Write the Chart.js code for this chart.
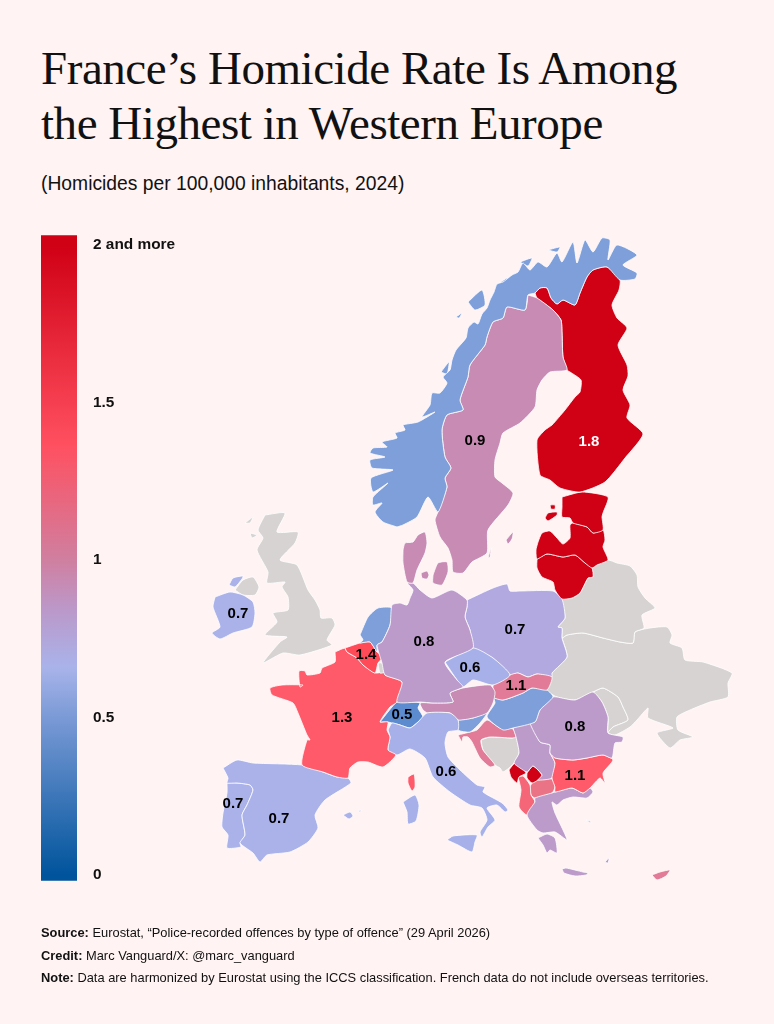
<!DOCTYPE html>
<html>
<head>
<meta charset="utf-8">
<title>France's Homicide Rate</title>
<script src="https://cdn.jsdelivr.net/npm/chart.js@4"></script>
<style>
  html, body { margin: 0; padding: 0; background: #fff3f3; }
  body { position: relative; width: 774px; height: 1024px; overflow: hidden; font-family: "Liberation Sans", sans-serif; color: #111; }
  #mapChart { position: absolute; left: 0; top: 0; }
  #scaleChart { position: absolute; left: 41px; top: 218px; }
  h1 { position: absolute; left: 41px; top: 41px; margin: 0; font: 400 47px/55px "Liberation Serif", serif; letter-spacing: -0.45px; white-space: nowrap; }
  .sub { position: absolute; left: 41px; top: 173px; font-size: 19.3px; white-space: nowrap; }
  .foot { position: absolute; left: 41px; font-size: 12.87px; white-space: nowrap; }
</style>
</head>
<body>
<h1>France’s Homicide Rate Is Among<br>the Highest in Western Europe</h1>
<div class="sub">(Homicides per 100,000 inhabitants, 2024)</div>
<canvas id="mapChart" width="774" height="1024"></canvas>
<canvas id="scaleChart" width="160" height="680"></canvas>
<div class="foot" style="top:925px"><b>Source:</b> Eurostat, “Police-recorded offences by type of offence” (29 April 2026)</div>
<div class="foot" style="top:948px"><b>Credit:</b> Marc Vanguard/X: @marc_vanguard</div>
<div class="foot" style="top:970px"><b>Note:</b> Data are harmonized by Eurostat using the ICCS classification. French data do not include overseas territories.</div>
<script>
// rates, null = no data (grey)
var countries = ['Norway','Sweden','Finland','Estonia','Latvia','Lithuania','Denmark','Germany','Netherlands','Belgium','Luxembourg','France','Spain','Portugal','Italy','Switzerland','Austria','Slovenia','Czechia','Slovakia','Hungary','Poland','Romania','Bulgaria','Greece','Serbia','Croatia','Bosnia','Montenegro','Kosovo','Albania','North Macedonia','Ireland','Northern Ireland','Great Britain','Belarus','Ukraine','Moldova','Cyprus'];
var rates = [0.55,0.9,1.8,2,2,2,0.9,0.8,0.55,1.4,null,1.3,0.65,0.65,0.64,0.48,0.9,0.55,0.64,1.1,0.55,0.72,0.8,1.3,0.8,0.8,1.1,null,2,2,1.25,1.2,0.65,null,null,null,null,null,1.1];

// outlines, each country is a list of closed parts in map units
var norway = [
  [[397,527],[383,522],[375,512],[382,503],[373,505],[373,497],[388,483],[373,492],[371,478],[393,470],[372,468],[370,460],[385,457],[370,453],[373,448],[387,447],[382,442],[397,438],[395,433],[405,430],[403,425],[418,422],[435,412],[422,417],[430,405],[432,393],[440,393],[447,383],[443,377],[450,370],[452,360],[456,350],[466,338],[468,328],[474,322],[478,324],[482,314],[487,308],[490,300],[494,292],[497,284],[503,282],[512,275],[518,272],[523,263],[530,270],[538,262],[547,267],[557,253],[562,262],[573,242],[577,263],[585,240],[593,252],[602,238],[610,240],[608,260],[617,245],[637,255],[623,265],[637,273],[635,279],[620,280],[607,267],[593,270],[587,277],[580,293],[575,305],[563,300],[557,304],[551,298],[547,288],[540,288],[535,293],[528,295],[525,310],[507,307],[503,318],[493,322],[487,337],[485,345],[470,365],[468,377],[460,400],[463,410],[447,415],[442,430],[445,457],[451,468],[445,478],[447,487],[438,512],[428,497],[417,517],[403,525]],
  [[468,302],[482,290],[485,305],[475,310]],
  [[456,317],[462,313],[459,318]],
  [[548,250],[560,247],[557,252]],
  [[495,287],[507,278],[503,290]],
  [[520,262],[532,258],[528,266]],
  [[441,372],[449,362],[447,374]]
];
var sweden = [
  [[528,295],[525,310],[507,307],[503,318],[493,322],[487,337],[485,345],[470,365],[468,377],[460,400],[463,410],[447,415],[442,430],[445,457],[451,468],[445,478],[447,487],[438,512],[435,520],[440,537],[448,548],[452,560],[453,572],[463,573],[472,562],[487,553],[488,530],[508,505],[513,493],[502,483],[495,477],[495,460],[500,443],[503,433],[520,423],[535,407],[537,390],[542,380],[550,372],[567,370],[563,357],[562,333],[561,320],[553,310],[537,298]],
  [[506,540],[513,532],[512,539],[508,544]],
  [[488,558],[491,548],[490,557]]
];
var finland = [
  [[535,293],[540,288],[547,288],[551,298],[557,304],[563,300],[575,305],[580,293],[587,277],[593,270],[607,267],[620,280],[619,290],[612,305],[617,318],[627,328],[618,345],[627,365],[628,376],[623,390],[630,405],[627,418],[643,434],[625,458],[605,482],[580,492],[560,488],[550,480],[540,475],[537,440],[545,430],[552,425],[565,410],[575,397],[580,392],[581,380],[570,372],[567,370],[563,357],[562,333],[561,320],[553,310],[537,298]]
];
var estonia = [
  [[562,497],[582,492],[608,497],[603,513],[602,517],[603,530],[593,533],[587,527],[573,523],[570,518],[562,517],[562,507]],
  [[545,518],[548,513],[557,512],[557,515],[548,521]],
  [[550,505],[555,505],[555,509],[551,509]]
];
var latvia = [
  [[538,542],[542,533],[550,531],[557,538],[563,544],[570,538],[570,525],[573,523],[587,527],[593,533],[603,530],[605,540],[603,547],[608,560],[597,565],[592,568],[585,563],[575,555],[563,557],[547,554],[537,559],[536,550]]
];
var lithuania = [
  [[537,559],[547,554],[563,557],[575,555],[585,563],[592,568],[593,577],[588,578],[580,593],[572,598],[562,599],[555,590],[553,582],[542,577],[537,568]]
];
var denmark = [
  [[403,550],[405,543],[413,542],[418,535],[425,532],[427,543],[425,553],[417,570],[413,583],[407,582],[403,563]],
  [[433,575],[438,563],[447,562],[448,572],[442,585],[433,583]],
  [[421,573],[427,571],[429,575],[427,579],[422,578]]
];
var germany = [
  [[407,583],[413,583],[420,590],[432,598],[452,590],[467,600],[467,607],[465,617],[470,630],[473,648],[445,662],[457,680],[463,687],[450,693],[453,702],[433,703],[420,702],[397,702],[402,682],[385,675],[382,663],[377,645],[382,642],[390,625],[392,605],[400,603],[407,605],[410,598],[413,590]]
];
var netherlands = [
  [[360,635],[368,617],[378,608],[392,608],[390,625],[382,642],[377,645],[377,652],[370,642],[360,643],[363,640]]
];
var belgium = [
  [[345,648],[360,643],[370,642],[377,652],[383,657],[378,663],[375,673],[363,665],[357,658],[347,652]]
];
var luxembourg = [
  [[378,663],[382,663],[385,672],[380,673]]
];
var france = [
  [[335,652],[345,648],[347,652],[357,658],[363,665],[375,673],[385,672],[385,675],[402,682],[397,702],[390,707],[380,722],[388,722],[387,730],[390,737],[388,750],[396,755],[383,767],[368,762],[358,762],[350,768],[348,778],[337,777],[323,772],[302,765],[307,740],[310,740],[307,735],[298,713],[293,703],[272,695],[270,688],[282,685],[303,685],[300,687],[299,671],[305,671],[307,675],[320,673],[322,668],[335,662]],
  [[408,777],[414,774],[415,787],[412,791],[408,783]]
];
var spain = [
  [[223,768],[237,760],[253,763],[302,765],[323,772],[337,777],[348,778],[351,783],[325,800],[315,815],[318,828],[308,842],[290,852],[267,855],[260,862],[253,853],[240,843],[245,835],[242,815],[247,805],[253,790],[250,785],[237,783],[227,783],[228,778]],
  [[343,815],[350,812],[353,816],[349,819]],
  [[358,811],[361,810],[360,812]]
];
var portugal = [
  [[227,783],[237,783],[250,785],[253,790],[247,805],[242,815],[245,835],[240,843],[241,847],[227,848],[228,835],[222,827],[223,813],[227,793]]
];
var italy = [
  [[388,730],[392,723],[400,725],[410,728],[418,722],[427,713],[450,713],[458,720],[458,730],[448,732],[445,743],[448,757],[460,770],[477,785],[485,787],[483,792],[502,803],[508,810],[505,812],[497,805],[487,808],[495,820],[488,827],[482,837],[480,832],[487,820],[482,808],[470,805],[450,792],[433,777],[425,758],[410,749],[397,755],[388,750],[390,737]],
  [[447,840],[453,836],[477,835],[475,842],[472,852],[458,845]],
  [[403,802],[415,795],[419,805],[416,821],[408,824],[407,812]]
];
var switzerland = [
  [[380,722],[392,707],[397,702],[410,702],[420,703],[418,708],[423,717],[418,722],[410,728],[400,725],[392,723],[388,722]]
];
var austria = [
  [[427,713],[423,710],[420,703],[433,703],[453,702],[450,693],[463,688],[490,685],[495,692],[493,703],[487,713],[473,718],[458,720],[450,713]]
];
var slovenia = [
  [[458,720],[473,718],[487,713],[480,723],[470,732],[458,730]]
];
var czechia = [
  [[445,662],[473,648],[493,658],[510,675],[493,685],[473,680],[463,687],[457,680]]
];
var slovakia = [
  [[493,685],[510,675],[518,673],[528,677],[537,674],[552,677],[547,690],[532,688],[523,693],[503,700],[493,697]]
];
var hungary = [
  [[493,697],[503,700],[523,693],[532,688],[547,690],[553,697],[540,710],[535,722],[513,728],[503,730],[487,717],[495,703]]
];
var poland = [
  [[467,600],[493,588],[507,584],[510,591],[520,591],[553,591],[562,599],[565,618],[558,627],[562,628],[562,638],[567,657],[552,673],[552,677],[537,674],[528,677],[518,673],[510,675],[493,658],[473,648],[470,630],[465,617],[467,607]]
];
var romania = [
  [[557,697],[575,700],[593,692],[602,702],[608,717],[608,733],[623,737],[622,742],[615,743],[612,758],[603,755],[587,758],[573,760],[555,758],[550,753],[550,745],[540,742],[530,723],[535,722],[540,710],[553,697]]
];
var bulgaria = [
  [[550,753],[555,758],[573,760],[587,758],[603,755],[613,760],[603,773],[605,783],[600,778],[590,788],[583,793],[572,788],[555,792],[555,787],[552,778],[555,763]]
];
var greece = [
  [[535,802],[535,798],[552,793],[555,792],[572,788],[583,793],[590,788],[593,792],[587,798],[573,797],[563,800],[557,805],[552,802],[555,813],[563,830],[567,840],[555,832],[543,833],[537,830],[527,815]],
  [[538,838],[547,834],[555,838],[557,853],[550,850],[547,853],[543,845]],
  [[562,869],[566,868],[583,872],[588,873],[586,875],[575,876],[564,873]],
  [[605,862],[609,858],[608,863]],
  [[586,820],[590,821],[591,823]]
];
var serbia = [
  [[513,728],[530,723],[540,742],[550,745],[550,753],[555,763],[552,778],[538,780],[542,775],[533,766],[527,772],[520,768],[514,763],[519,753],[516,737]]
];
var croatia = [
  [[458,735],[470,732],[477,730],[487,720],[500,728],[513,729],[516,737],[512,738],[490,737],[481,740],[483,750],[495,765],[490,767],[480,758],[472,742],[468,737],[463,737],[462,742]]
];
var bosnia = [
  [[481,740],[490,737],[512,738],[516,737],[519,753],[514,763],[509,768],[503,772],[500,768],[495,765],[483,750]]
];
var montenegro = [
  [[509,770],[515,763],[522,768],[526,773],[519,777],[517,783],[511,777]]
];
var kosovo = [
  [[527,773],[533,766],[542,775],[538,780],[532,783],[527,778]]
];
var albania = [
  [[518,777],[523,776],[530,785],[531,795],[535,802],[527,815],[519,807],[521,790]]
];
var macedonia = [
  [[532,783],[538,780],[552,779],[555,787],[552,793],[535,798],[531,795],[530,787]]
];
var ireland = [
  [[215,597],[230,592],[243,595],[253,602],[255,613],[252,627],[233,633],[220,639],[212,633],[220,627],[213,607]],
  [[229,585],[233,578],[243,576],[242,579],[235,587]]
];
var northIreland = [
  [[235,590],[243,580],[253,577],[259,587],[255,595],[243,595]]
];
var britain = [
  [[265,515],[285,513],[277,532],[298,532],[295,543],[280,560],[297,565],[308,590],[315,600],[320,610],[321,618],[332,618],[335,625],[327,640],[332,645],[300,655],[283,653],[263,663],[280,642],[287,637],[265,635],[277,622],[273,613],[288,610],[288,597],[282,587],[285,582],[267,583],[268,572],[257,550],[263,538],[258,530]],
  [[245,523],[253,517],[250,523]],
  [[250,533],[257,535],[252,538]]
];
var belarus = [
  [[592,568],[597,565],[608,560],[617,563],[630,566],[637,575],[638,587],[645,598],[655,608],[642,615],[644,628],[635,632],[633,643],[620,642],[603,638],[583,633],[567,635],[562,638],[562,628],[558,627],[565,618],[562,599],[572,598],[580,593],[588,578],[593,577]]
];
var ukraine = [
  [[562,638],[567,635],[583,633],[603,638],[620,642],[633,643],[635,632],[650,628],[667,627],[672,635],[670,643],[682,648],[685,660],[703,662],[732,673],[728,683],[728,697],[710,702],[690,710],[677,717],[678,730],[693,737],[680,740],[670,748],[657,733],[673,728],[648,718],[648,708],[637,720],[630,727],[615,735],[608,733],[613,727],[628,720],[623,707],[618,697],[603,688],[593,692],[575,700],[557,697],[547,690],[552,673],[567,657]]
];
var moldova = [
  [[593,692],[603,688],[618,697],[623,707],[628,720],[613,727],[608,733],[608,717],[602,702]]
];
var cyprus = [
  [[652,875],[660,872],[670,870],[666,876],[657,880]]
];
var outlines = [norway,sweden,finland,estonia,latvia,lithuania,denmark,germany,netherlands,belgium,luxembourg,france,spain,portugal,italy,switzerland,austria,slovenia,czechia,slovakia,hungary,poland,romania,bulgaria,greece,serbia,croatia,bosnia,montenegro,kosovo,albania,macedonia,ireland,northIreland,britain,belarus,ukraine,moldova,cyprus];

// swedish lakes, cut out of the fill
var lakes = [
  [[483,500],[497,502],[511,502],[509,507],[497,505],[487,504]],
  [[486,516],[497,513],[488,518]]
];

// printed labels and where they sit on the map
var labelTexts = ['0.9','1.8','0.7','1.4','1.3','0.8','0.7','0.6','1.1','0.5','0.8','0.6','1.1','0.7','0.7'];
var labelX = [475,589,238,366,342,424,515,470,516,402,575,446,575,233,279];
var labelY = [441,442,614,655,718,642,630,668,686,715,727,772,776,804,819];

var scaleTicks = [0,0.5,1,1.5,2];
var scaleLabels = ['0','0.5','1','1.5','2 and more'];
var scaleRange = [-0.0187, 2.0313];

var fillStops = [[0,'#00559c'],[0.48,'#5d8bcf'],[0.55,'#7f9fdb'],[0.65,'#abb2ea'],[0.72,'#b2a9e0'],[0.8,'#bc9bcb'],[0.9,'#c78bb4'],[1.1,'#e17b97'],[1.2,'#ea7386'],[1.3,'#ff5a69'],[1.4,'#ff4a58'],[1.8,'#d00015'],[2,'#d00015']];
var barStops = [[0,'#00549c'],[0.5,'#7a9ad6'],[0.66,'#a9b3ea'],[0.85,'#bc97c8'],[1,'#d07fa0'],[1.365,'#ff5060'],[2,'#d00015']];
var NO_DATA = '#d6d3d2', BG = '#fff3f3';

function hexToRgb(h) {
  return [parseInt(h.substr(1,2),16), parseInt(h.substr(3,2),16), parseInt(h.substr(5,2),16)];
}
function colorFor(v) {
  if (v === null) return NO_DATA;
  for (var i = 1; i < fillStops.length; i++) {
    if (v <= fillStops[i][0]) {
      var a = fillStops[i-1], b = fillStops[i];
      var t = (v - a[0]) / (b[0] - a[0]);
      var c1 = hexToRgb(a[1]), c2 = hexToRgb(b[1]);
      return 'rgb(' + [0,1,2].map(function(k){ return Math.round(c1[k] + (c2[k]-c1[k])*t); }).join(',') + ')';
    }
  }
  return fillStops[fillStops.length-1][1];
}

function partDataset(part, name, color) {
  var pts = part.concat([part[0]]).map(function(p){ return {x:p[0], y:p[1]}; });
  return {
    label: name, data: pts, showLine: true, fill: 'shape', tension: 0.2,
    backgroundColor: color, borderColor: '#ffffff', borderWidth: 0.8, borderJoinStyle: 'round',
    pointRadius: 0, pointHoverRadius: 0
  };
}

var mapSets = [];
countries.forEach(function(name, i) {
  outlines[i].forEach(function(part) { mapSets.push(partDataset(part, name, colorFor(rates[i]))); });
});
lakes.forEach(function(part) {
  var d = partDataset(part, 'lake', BG); d.borderColor = BG; mapSets.push(d);
});

var rateLabels = {
  id: 'rateLabels',
  afterDatasetsDraw: function(chart) {
    var ctx = chart.ctx;
    ctx.save();
    ctx.font = 'bold 15px "Liberation Sans"';
    ctx.textAlign = 'center';
    ctx.textBaseline = 'middle';
    labelTexts.forEach(function(txt, i) {
      ctx.fillStyle = txt === '1.8' ? '#ffffff' : '#000000';
      ctx.fillText(txt, chart.scales.x.getPixelForValue(labelX[i]), chart.scales.y.getPixelForValue(labelY[i]));
    });
    ctx.restore();
  }
};

new Chart(document.getElementById('mapChart'), {
  type: 'scatter',
  data: { datasets: mapSets },
  options: {
    responsive: false, animation: false, events: [],
    layout: { padding: 0 },
    plugins: { legend: { display: false }, tooltip: { enabled: false } },
    scales: {
      x: { type: 'linear', display: false, min: 0, max: 774 },
      y: { type: 'linear', display: false, min: 0, max: 1024, reverse: true }
    }
  },
  plugins: [rateLabels]
});

// colour bar: one floating bar against the rate axis
new Chart(document.getElementById('scaleChart'), {
  type: 'bar',
  data: {
    labels: ['rate'],
    datasets: [{
      data: [scaleRange],
      barPercentage: 1, categoryPercentage: 1,
      backgroundColor: function(c) {
        var area = c.chart.chartArea;
        if (!area) return '#ccc';
        var y = c.chart.scales.y;
        var g = c.chart.ctx.createLinearGradient(0, y.getPixelForValue(0), 0, y.getPixelForValue(2));
        barStops.forEach(function(s) { g.addColorStop(s[0] / 2, s[1]); });
        return g;
      }
    }]
  },
  options: {
    responsive: false, animation: false, events: [],
    layout: { padding: 0 },
    plugins: { legend: { display: false }, tooltip: { enabled: false } },
    scales: {
      x: { display: false },
      y: {
        position: 'right', min: scaleRange[0], max: scaleRange[1],
        grid: { display: false }, border: { display: false },
        afterFit: function(s) { s.width = 124; },
        afterBuildTicks: function(s) { s.ticks = scaleTicks.map(function(v){ return {value:v}; }); },
        ticks: {
          autoSkip: false, padding: 8, color: '#111', maxRotation: 0,
          font: { family: 'Liberation Sans', size: 15.4, weight: 'bold' },
          callback: function(v) { return scaleLabels[scaleTicks.indexOf(v)]; }
        }
      }
    }
  }
});
</script>
</body>
</html>
